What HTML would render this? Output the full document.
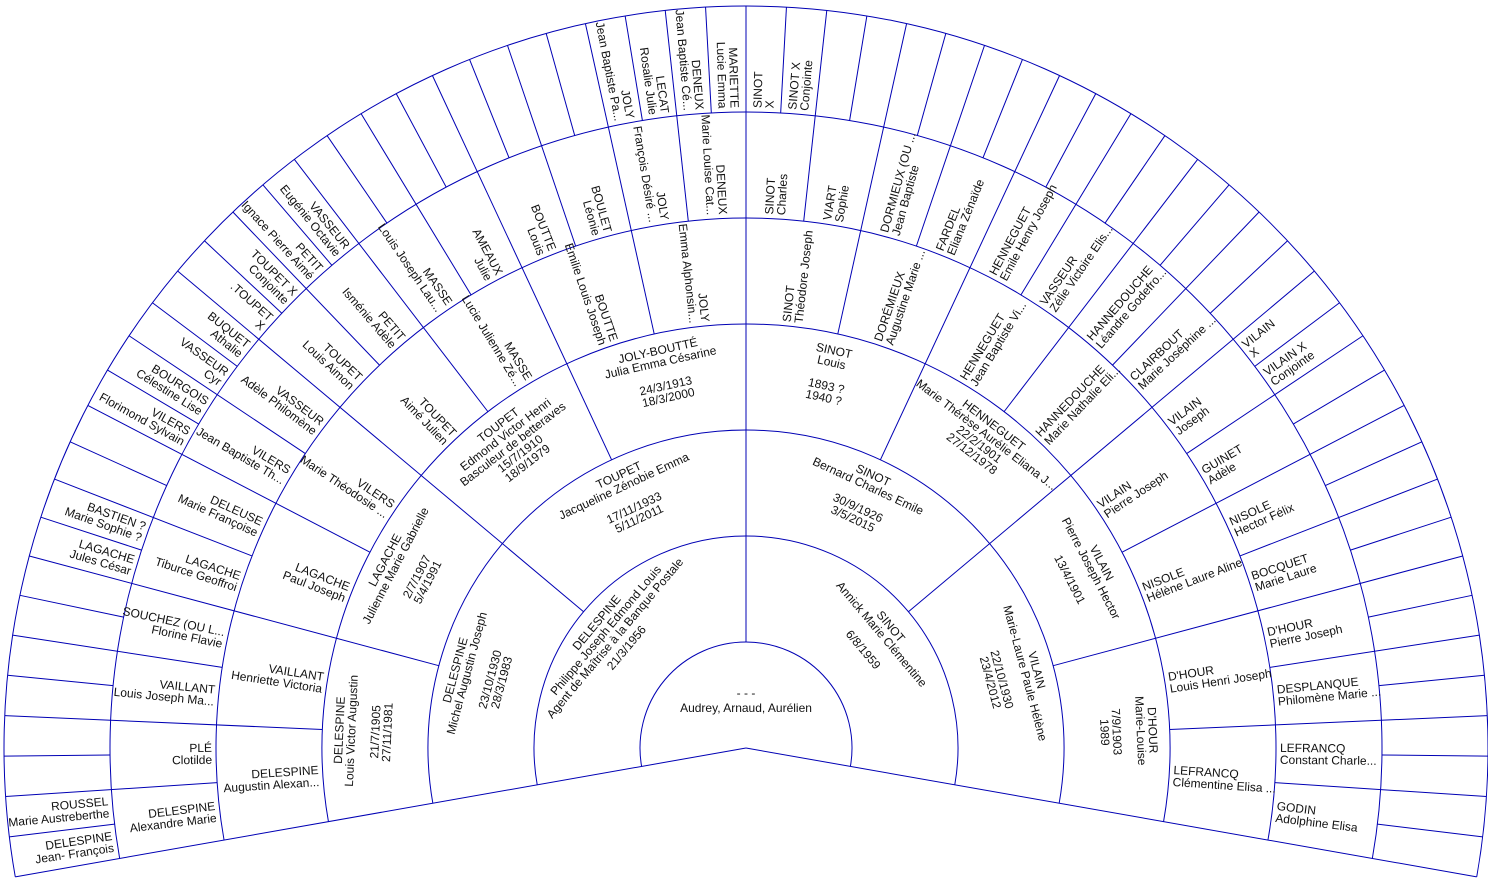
<!DOCTYPE html>
<html><head><meta charset="utf-8"><style>
html,body{margin:0;padding:0;background:#fff}
svg{display:block}
text{font-family:"Liberation Sans",sans-serif;font-size:12px;fill:#111}
.l text{text-anchor:end}
.r text{text-anchor:start}
.t text{text-anchor:middle}
line,path{stroke:#0000b4;stroke-width:1;fill:none}
</style></head><body>
<svg width="1488" height="888" viewBox="0 0 1488 888" xmlns="http://www.w3.org/2000/svg">
<g transform="translate(746,748)">
<path d="M-104.39 18.41 A106 106 0 1 1 104.39 18.41"/>
<path d="M-208.78 36.81 A212 212 0 1 1 208.78 36.81"/>
<path d="M-313.17 55.22 A318 318 0 1 1 313.17 55.22"/>
<path d="M-417.56 73.63 A424 424 0 1 1 417.56 73.63"/>
<path d="M-521.95 92.03 A530 530 0 1 1 521.95 92.03"/>
<path d="M-626.34 110.44 A636 636 0 1 1 626.34 110.44"/>
<path d="M-730.73 128.85 A742 742 0 1 1 730.73 128.85"/>
<line x1="0" x2="742" transform="rotate(-190)"/>
<line x1="0" x2="742" transform="rotate(10)"/>
<line x1="636" x2="742" transform="rotate(-186.875)"/>
<line x1="530" x2="742" transform="rotate(-183.75)"/>
<line x1="636" x2="742" transform="rotate(-180.625)"/>
<line x1="424" x2="742" transform="rotate(-177.5)"/>
<line x1="636" x2="742" transform="rotate(-174.375)"/>
<line x1="530" x2="742" transform="rotate(-171.25)"/>
<line x1="636" x2="742" transform="rotate(-168.125)"/>
<line x1="318" x2="742" transform="rotate(-165)"/>
<line x1="636" x2="742" transform="rotate(-161.875)"/>
<line x1="530" x2="742" transform="rotate(-158.75)"/>
<line x1="636" x2="742" transform="rotate(-155.625)"/>
<line x1="424" x2="742" transform="rotate(-152.5)"/>
<line x1="636" x2="742" transform="rotate(-149.375)"/>
<line x1="530" x2="742" transform="rotate(-146.25)"/>
<line x1="636" x2="742" transform="rotate(-143.125)"/>
<line x1="212" x2="742" transform="rotate(-140)"/>
<line x1="636" x2="742" transform="rotate(-136.875)"/>
<line x1="530" x2="742" transform="rotate(-133.75)"/>
<line x1="636" x2="742" transform="rotate(-130.625)"/>
<line x1="424" x2="742" transform="rotate(-127.5)"/>
<line x1="636" x2="742" transform="rotate(-124.375)"/>
<line x1="530" x2="742" transform="rotate(-121.25)"/>
<line x1="636" x2="742" transform="rotate(-118.125)"/>
<line x1="318" x2="742" transform="rotate(-115)"/>
<line x1="636" x2="742" transform="rotate(-111.875)"/>
<line x1="530" x2="742" transform="rotate(-108.75)"/>
<line x1="636" x2="742" transform="rotate(-105.625)"/>
<line x1="424" x2="742" transform="rotate(-102.5)"/>
<line x1="636" x2="742" transform="rotate(-99.375)"/>
<line x1="530" x2="742" transform="rotate(-96.25)"/>
<line x1="636" x2="742" transform="rotate(-93.125)"/>
<line x1="106" x2="742" transform="rotate(-90)"/>
<line x1="636" x2="742" transform="rotate(-86.875)"/>
<line x1="530" x2="742" transform="rotate(-83.75)"/>
<line x1="636" x2="742" transform="rotate(-80.625)"/>
<line x1="424" x2="742" transform="rotate(-77.5)"/>
<line x1="636" x2="742" transform="rotate(-74.375)"/>
<line x1="530" x2="742" transform="rotate(-71.25)"/>
<line x1="636" x2="742" transform="rotate(-68.125)"/>
<line x1="318" x2="742" transform="rotate(-65)"/>
<line x1="636" x2="742" transform="rotate(-61.875)"/>
<line x1="530" x2="742" transform="rotate(-58.75)"/>
<line x1="636" x2="742" transform="rotate(-55.625)"/>
<line x1="424" x2="742" transform="rotate(-52.5)"/>
<line x1="636" x2="742" transform="rotate(-49.375)"/>
<line x1="530" x2="742" transform="rotate(-46.25)"/>
<line x1="636" x2="742" transform="rotate(-43.125)"/>
<line x1="212" x2="742" transform="rotate(-40)"/>
<line x1="636" x2="742" transform="rotate(-36.875)"/>
<line x1="530" x2="742" transform="rotate(-33.75)"/>
<line x1="636" x2="742" transform="rotate(-30.625)"/>
<line x1="424" x2="742" transform="rotate(-27.5)"/>
<line x1="636" x2="742" transform="rotate(-24.375)"/>
<line x1="530" x2="742" transform="rotate(-21.25)"/>
<line x1="636" x2="742" transform="rotate(-18.125)"/>
<line x1="318" x2="742" transform="rotate(-15)"/>
<line x1="636" x2="742" transform="rotate(-11.875)"/>
<line x1="530" x2="742" transform="rotate(-8.75)"/>
<line x1="636" x2="742" transform="rotate(-5.625)"/>
<line x1="424" x2="742" transform="rotate(-2.5)"/>
<line x1="636" x2="742" transform="rotate(0.625)"/>
<line x1="530" x2="742" transform="rotate(3.75)"/>
<line x1="636" x2="742" transform="rotate(6.875)"/>

<g class="t"><text x="0" y="-51">- - -</text><text x="0" y="-36">Audrey, Arnaud, Aurélien</text></g>

<g class="t" transform="rotate(-50)"><text y="-191">DELESPINE</text><text y="-179">Philippe Joseph Edmond Louis</text><text y="-167">Agent de Maîtrise à la Banque Postale</text><text y="-152">21/3/1956</text></g>
<g class="t" transform="rotate(50)"><text y="-185">SINOT</text><text y="-173">Annick Marie Clémentine</text><text y="-149">6/8/1959</text></g>

<g class="t" transform="rotate(-75)"><text y="-297">DELESPINE</text><text y="-285">Michel Augustin Joseph</text><text y="-261">23/10/1930</text><text y="-249">28/3/1983</text></g>
<g class="t" transform="rotate(-25)"><text y="-297">TOUPET</text><text y="-285">Jacqueline Zénobie Emma</text><text y="-261">17/11/1933</text><text y="-249">5/11/2011</text></g>
<g class="t" transform="rotate(25)"><text y="-297">SINOT</text><text y="-285">Bernard Charles Emile</text><text y="-261">30/9/1926</text><text y="-249">3/5/2015</text></g>
<g class="t" transform="rotate(75)"><text y="-297">VILAIN</text><text y="-285">Marie-Laure Paule Hélène</text><text y="-261">22/10/1930</text><text y="-249">23/4/2012</text></g>

<g class="t" transform="rotate(-87.5)"><text y="-403">DELESPINE</text><text y="-391">Louis Victor Augustin</text><text y="-367">21/7/1905</text><text y="-355">27/11/1981</text></g>
<g class="t" transform="rotate(-62.5)"><text y="-403">LAGACHE</text><text y="-391">Julienne Marie Gabrielle</text><text y="-367">2/7/1907</text><text y="-355">5/4/1991</text></g>
<g class="t" transform="rotate(-37.5)"><text y="-403">TOUPET</text><text y="-391">Edmond Victor Henri</text><text y="-379">Basculeur de betteraves</text><text y="-367">15/7/1910</text><text y="-355">18/9/1979</text></g>
<g class="t" transform="rotate(-12.5)"><text y="-403">JOLY-BOUTTÉ</text><text y="-391">Julia Emma Césarine</text><text y="-367">24/3/1913</text><text y="-355">18/3/2000</text></g>
<g class="t" transform="rotate(12.5)"><text y="-403">SINOT</text><text y="-391">Louis</text><text y="-367">1893 ?</text><text y="-355">1940 ?</text></g>
<g class="t" transform="rotate(37.5)"><text y="-403">HENNEGUET</text><text y="-391">Marie Thérèse Aurélie Eliana J...</text><text y="-379">22/2/1901</text><text y="-367">27/12/1978</text></g>
<g class="t" transform="rotate(62.5)"><text y="-397">VILAIN</text><text y="-385">Pierre Joseph Hector</text><text y="-361">13/4/1901</text></g>
<g class="t" transform="rotate(87.5)"><text y="-403">D'HOUR</text><text y="-391">Marie-Louise</text><text y="-367">7/9/1903</text><text y="-355">1989</text></g>

<g class="l" transform="rotate(-3.75)"><text x="-428" y="-2">DELESPINE</text><text x="-428" y="10">Augustin Alexan...</text></g>
<g class="l" transform="rotate(8.75)"><text x="-428" y="-2">VAILLANT</text><text x="-428" y="10">Henriette Victoria</text></g>
<g class="l" transform="rotate(21.25)"><text x="-428" y="-2">LAGACHE</text><text x="-428" y="10">Paul Joseph</text></g>
<g class="l" transform="rotate(33.75)"><text x="-428" y="-2">VILERS</text><text x="-428" y="10">Marie Théodosie ...</text></g>
<g class="l" transform="rotate(46.25)"><text x="-428" y="-2">TOUPET</text><text x="-428" y="10">Aimé Julien</text></g>
<g class="l" transform="rotate(58.75)"><text x="-428" y="-2">MASSE</text><text x="-428" y="10">Lucie Julienne Zé...</text></g>
<g class="l" transform="rotate(71.25)"><text x="-428" y="-2">BOUTTE</text><text x="-428" y="10">Emilie Louis Joseph</text></g>
<g class="l" transform="rotate(83.75)"><text x="-428" y="-2">JOLY</text><text x="-428" y="10">Emma Alphonsin...</text></g>
<g class="r" transform="rotate(-83.75)"><text x="428" y="-2">SINOT</text><text x="428" y="10">Théodore Joseph</text></g>
<g class="r" transform="rotate(-71.25)"><text x="428" y="-2">DORÉMIEUX</text><text x="428" y="10">Augustine Marie ...</text></g>
<g class="r" transform="rotate(-58.75)"><text x="428" y="-2">HENNEGUET</text><text x="428" y="10">Jean Baptiste Vi...</text></g>
<g class="r" transform="rotate(-46.25)"><text x="428" y="-2">HANNEDOUCHE</text><text x="428" y="10">Marie Nathalie Eli...</text></g>
<g class="r" transform="rotate(-33.75)"><text x="428" y="-2">VILAIN</text><text x="428" y="10">Pierre Joseph</text></g>
<g class="r" transform="rotate(-21.25)"><text x="428" y="-2">NISOLE</text><text x="428" y="10">Hélène Laure Aline</text></g>
<g class="r" transform="rotate(-8.75)"><text x="428" y="-2">D'HOUR</text><text x="428" y="10">Louis Henri Joseph</text></g>
<g class="r" transform="rotate(3.75)"><text x="428" y="-2">LEFRANCQ</text><text x="428" y="10">Clémentine Elisa ...</text></g>

<g class="l" transform="rotate(-6.875)"><text x="-534" y="-2">DELESPINE</text><text x="-534" y="10">Alexandre Marie</text></g>
<g class="l" transform="rotate(-0.625)"><text x="-534" y="-2">PLÉ</text><text x="-534" y="10">Clotilde</text></g>
<g class="l" transform="rotate(5.625)"><text x="-534" y="-2">VAILLANT</text><text x="-534" y="10">Louis Joseph Ma...</text></g>
<g class="l" transform="rotate(11.875)"><text x="-534" y="-2">SOUCHEZ (OU L...</text><text x="-534" y="10">Florine Flavie</text></g>
<g class="l" transform="rotate(18.125)"><text x="-534" y="-2">LAGACHE</text><text x="-534" y="10">Tiburce Geoffroi</text></g>
<g class="l" transform="rotate(24.375)"><text x="-534" y="-2">DELEUSE</text><text x="-534" y="10">Marie Françoise</text></g>
<g class="l" transform="rotate(30.625)"><text x="-534" y="-2">VILERS</text><text x="-534" y="10">Jean Baptiste Th...</text></g>
<g class="l" transform="rotate(36.875)"><text x="-534" y="-2">VASSEUR</text><text x="-534" y="10">Adèle Philomène</text></g>
<g class="l" transform="rotate(43.125)"><text x="-534" y="-2">TOUPET</text><text x="-534" y="10">Louis Aimon</text></g>
<g class="l" transform="rotate(49.375)"><text x="-534" y="-2">PETIT</text><text x="-534" y="10">Isménie Adèle</text></g>
<g class="l" transform="rotate(55.625)"><text x="-534" y="-2">MASSE</text><text x="-534" y="10">Louis Joseph Lau...</text></g>
<g class="l" transform="rotate(61.875)"><text x="-534" y="-2">AMEAUX</text><text x="-534" y="10">Julie</text></g>
<g class="l" transform="rotate(68.125)"><text x="-534" y="-2">BOUTTE</text><text x="-534" y="10">Louis</text></g>
<g class="l" transform="rotate(74.375)"><text x="-534" y="-2">BOULET</text><text x="-534" y="10">Léonie</text></g>
<g class="l" transform="rotate(80.625)"><text x="-534" y="-2">JOLY</text><text x="-534" y="10">François Désiré ...</text></g>
<g class="l" transform="rotate(86.875)"><text x="-534" y="-2">DENEUX</text><text x="-534" y="10">Marie Louise Cat...</text></g>
<g class="r" transform="rotate(-86.875)"><text x="534" y="-2">SINOT</text><text x="534" y="10">Charles</text></g>
<g class="r" transform="rotate(-80.625)"><text x="534" y="-2">VIART</text><text x="534" y="10">Sophie</text></g>
<g class="r" transform="rotate(-74.375)"><text x="534" y="-2">DORMIEUX (OU ...</text><text x="534" y="10">Jean Baptiste</text></g>
<g class="r" transform="rotate(-68.125)"><text x="534" y="-2">FARDEL</text><text x="534" y="10">Eliana Zénaïde</text></g>
<g class="r" transform="rotate(-61.875)"><text x="534" y="-2">HENNEGUET</text><text x="534" y="10">Emile Henry Joseph</text></g>
<g class="r" transform="rotate(-55.625)"><text x="534" y="-2">VASSEUR</text><text x="534" y="10">Zélie Victoire Elis...</text></g>
<g class="r" transform="rotate(-49.375)"><text x="534" y="-2">HANNEDOUCHE</text><text x="534" y="10">Léandre Godefro...</text></g>
<g class="r" transform="rotate(-43.125)"><text x="534" y="-2">CLAIRBOUT</text><text x="534" y="10">Marie Joséphine ...</text></g>
<g class="r" transform="rotate(-36.875)"><text x="534" y="-2">VILAIN</text><text x="534" y="10">Joseph</text></g>
<g class="r" transform="rotate(-30.625)"><text x="534" y="-2">GUINET</text><text x="534" y="10">Adèle</text></g>
<g class="r" transform="rotate(-24.375)"><text x="534" y="-2">NISOLE</text><text x="534" y="10">Hector Félix</text></g>
<g class="r" transform="rotate(-18.125)"><text x="534" y="-2">BOCQUET</text><text x="534" y="10">Marie Laure</text></g>
<g class="r" transform="rotate(-11.875)"><text x="534" y="-2">D'HOUR</text><text x="534" y="10">Pierre Joseph</text></g>
<g class="r" transform="rotate(-5.625)"><text x="534" y="-2">DESPLANQUE</text><text x="534" y="10">Philomène Marie ...</text></g>
<g class="r" transform="rotate(0.625)"><text x="534" y="-2">LEFRANCQ</text><text x="534" y="10">Constant Charle...</text></g>
<g class="r" transform="rotate(6.875)"><text x="534" y="-2">GODIN</text><text x="534" y="10">Adolphine Elisa</text></g>

<g class="l" transform="rotate(-8.4375)"><text x="-640" y="-2">DELESPINE</text><text x="-640" y="10">Jean- François</text></g>
<g class="l" transform="rotate(-5.3125)"><text x="-640" y="-2">ROUSSEL</text><text x="-640" y="10">Marie Austreberthe</text></g>
<g class="l" transform="rotate(16.5625)"><text x="-640" y="-2">LAGACHE</text><text x="-640" y="10">Jules César</text></g>
<g class="l" transform="rotate(19.6875)"><text x="-640" y="-2">BASTIEN ?</text><text x="-640" y="10">Marie Sophie ?</text></g>
<g class="l" transform="rotate(29.0625)"><text x="-640" y="-2">VILERS</text><text x="-640" y="10">Florimond Sylvain</text></g>
<g class="l" transform="rotate(32.1875)"><text x="-640" y="-2">BOURGOIS</text><text x="-640" y="10">Célestine Lise</text></g>
<g class="l" transform="rotate(35.3125)"><text x="-640" y="-2">VASSEUR</text><text x="-640" y="10">Cyr</text></g>
<g class="l" transform="rotate(38.4375)"><text x="-640" y="-2">BUQUET</text><text x="-640" y="10">Athalie</text></g>
<g class="l" transform="rotate(41.5625)"><text x="-640" y="-2">.TOUPET</text><text x="-640" y="10">X</text></g>
<g class="l" transform="rotate(44.6875)"><text x="-640" y="-2">TOUPET X</text><text x="-640" y="10">Conjointe</text></g>
<g class="l" transform="rotate(47.8125)"><text x="-640" y="-2">PETIT</text><text x="-640" y="10">Ignace Pierre Aimé</text></g>
<g class="l" transform="rotate(50.9375)"><text x="-640" y="-2">VASSEUR</text><text x="-640" y="10">Eugénie Octavie</text></g>
<g class="l" transform="rotate(79.0625)"><text x="-640" y="-2">JOLY</text><text x="-640" y="10">Jean Baptiste Pa...</text></g>
<g class="l" transform="rotate(82.1875)"><text x="-640" y="-2">LECAT</text><text x="-640" y="10">Rosalie Julie</text></g>
<g class="l" transform="rotate(85.3125)"><text x="-640" y="-2">DENEUX</text><text x="-640" y="10">Jean Baptiste Cé...</text></g>
<g class="l" transform="rotate(88.4375)"><text x="-640" y="-2">MARIETTE</text><text x="-640" y="10">Lucie Emma</text></g>
<g class="r" transform="rotate(-88.4375)"><text x="640" y="-2">SINOT</text><text x="640" y="10">X</text></g>
<g class="r" transform="rotate(-85.3125)"><text x="640" y="-2">SINOT X</text><text x="640" y="10">Conjointe</text></g>
<g class="r" transform="rotate(-38.4375)"><text x="640" y="-2">VILAIN</text><text x="640" y="10">X</text></g>
<g class="r" transform="rotate(-35.3125)"><text x="640" y="-2">VILAIN X</text><text x="640" y="10">Conjointe</text></g>
</g>
</svg>
</body></html>
